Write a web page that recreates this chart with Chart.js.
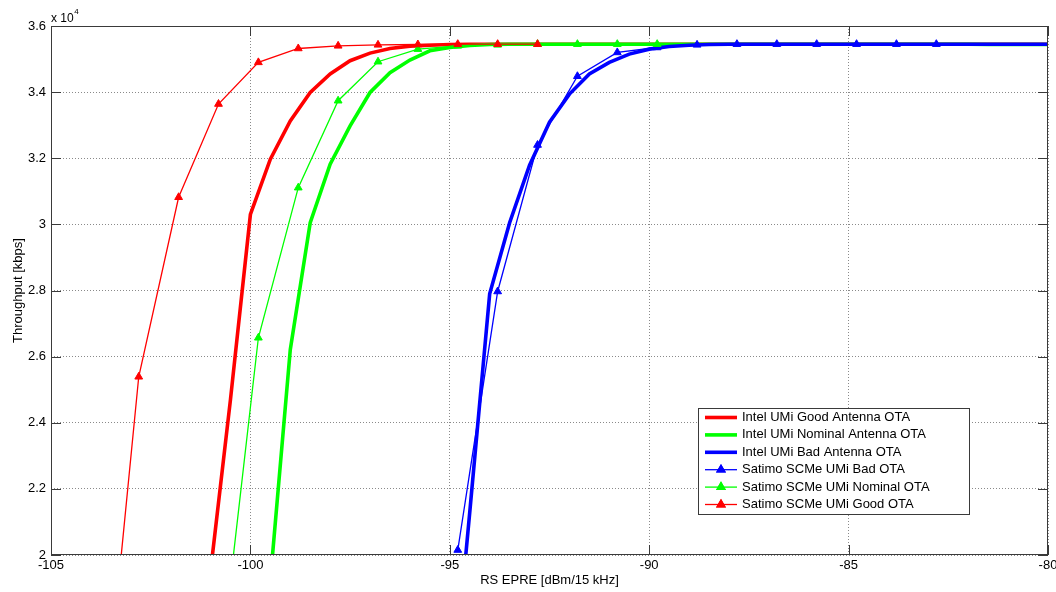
<!DOCTYPE html>
<html>
<head>
<meta charset="utf-8">
<script src="https://cdn.jsdelivr.net/npm/chart.js@4.4.1/dist/chart.umd.min.js"></script>
<style>
  html, body { margin: 0; padding: 0; background: #fff; }
  #wrap { position: relative; width: 1056px; height: 592px; }
</style>
</head>
<body>
<div id="wrap"><canvas id="tputChart"></canvas></div>
<script>
// RS EPRE grid of the Intel curves (0.5 dB steps)
const intelX = [-101, -100.5, -100, -99.5, -99, -98.5, -98, -97.5, -97, -96.5, -96, -95.5, -95,
  -94.5, -94, -93.5, -93, -92.5, -92, -91.5, -91, -90.5, -90, -89.5, -89, -88.5, -88, -87.5,
  -87, -86.5, -86, -85.5, -85, -84.5, -84, -83.5, -83, -82.5, -82, -81.5, -81, -80.5, -80];

const intelGood = [19500, 24700, 30300, 31970, 33130, 33990, 34550, 34950, 35180, 35320, 35390,
  35420, 35440, 35450, 35450, 35450, 35450, 35450, 35450, 35450, 35450, 35450, 35450, 35450,
  35450, 35450, 35450, 35450, 35450, 35450, 35450, 35450, 35450, 35450, 35450, 35450, 35450,
  35450, 35450, 35450, 35450, 35450, 35450];

const intelNominal = [null, null, null, 19240, 26210, 30050, 31820, 32980, 33990, 34590, 34970,
  35250, 35350, 35410, 35440, 35450, 35450, 35450, 35450, 35450, 35450, 35450, 35450, 35450,
  35450, 35450, 35450, 35450, 35450, 35450, 35450, 35450, 35450, 35450, 35450, 35450, 35450,
  35450, 35450, 35440, 35440, 35440, 35440];

const intelBad = [null, null, null, null, null, null, null, null, null, null, null, null,
  14800, 21290, 27900, 30050, 31790, 33090, 33940, 34550, 34900, 35150, 35300, 35380, 35420,
  35440, 35450, 35450, 35450, 35450, 35450, 35450, 35450, 35450, 35450, 35450, 35450, 35450,
  35450, 35450, 35450, 35450, 35450];

// RS EPRE grid of the Satimo measurements (1 dB steps)
const satimoX = [-103.8, -102.8, -101.8, -100.8, -99.8, -98.8, -97.8, -96.8, -95.8, -94.8, -93.8,
  -92.8, -91.8, -90.8, -89.8, -88.8, -87.8, -86.8, -85.8, -84.8, -83.8, -82.8];

const satimoBad = [null, null, null, null, null, null, null, null, null, 20150, 27970, 32400,
  34480, 35200, 35350, 35430, 35450, 35450, 35450, 35450, 35450, 35450];

const satimoNominal = [null, null, null, 16060, 26570, 31110, 33740, 34920, 35300, 35400, 35430,
  35450, 35450, 35450, 35450, null, null, null, null, null, null, null];

const satimoGood = [13100, 25390, 30820, 33640, 34900, 35320, 35400, 35430, 35440, 35450, 35450,
  35450, null, null, null, null, null, null, null, null, null, null];

const xTicks = [-105, -100, -95, -90, -85, -80];
const yTicks = [20000, 22000, 24000, 26000, 28000, 30000, 32000, 34000, 36000];

const FONT = '"Liberation Sans", Arial, sans-serif';
const tickLen = 10;

function pairs(xs, ys) {
  return xs.map((x, i) => ({ x: x, y: ys[i] }));
}

function intelSet(label, color, ys, order) {
  return {
    label: label, data: pairs(intelX, ys), borderColor: color, backgroundColor: color,
    borderWidth: 3.6, pointRadius: 0, pointHoverRadius: 0, order: order, clip: 0
  };
}

function satimoSet(label, color, ys, order) {
  return {
    label: label, data: pairs(satimoX, ys), borderColor: color, backgroundColor: color,
    borderWidth: 1.3, pointStyle: 'triangle', pointRadius: 4.5, pointBorderWidth: 1,
    pointHoverRadius: 4.5, order: order, clip: 0
  };
}

// MATLAB look: solid box, inward ticks, x10^4 multiplier, legend inside the axes
const matlabFrame = {
  id: 'matlabFrame',
  afterDraw(chart) {
    const { ctx, chartArea: a, scales: { x, y } } = chart;
    ctx.save();
    ctx.strokeStyle = '#3a3a3a';
    ctx.lineWidth = 1;
    ctx.beginPath();
    xTicks.forEach(v => {
      const px = Math.round(x.getPixelForValue(v)) + 0.5;
      ctx.moveTo(px, a.bottom); ctx.lineTo(px, a.bottom - tickLen);
      ctx.moveTo(px, a.top); ctx.lineTo(px, a.top + tickLen);
    });
    yTicks.forEach(v => {
      const py = Math.round(y.getPixelForValue(v)) + 0.5;
      ctx.moveTo(a.left, py); ctx.lineTo(a.left + tickLen, py);
      ctx.moveTo(a.right, py); ctx.lineTo(a.right - tickLen, py);
    });
    ctx.stroke();
    ctx.strokeRect(a.left + 0.5, a.top + 0.5, a.right - a.left - 1, a.bottom - a.top - 1);

    // exponent label
    ctx.fillStyle = '#000';
    ctx.textBaseline = 'alphabetic';
    ctx.textAlign = 'left';
    ctx.font = '12px ' + FONT;
    ctx.fillText('x 10', a.left, a.top - 4);
    const w = ctx.measureText('x 10').width;
    ctx.font = '8px ' + FONT;
    ctx.fillText('4', a.left + w + 0.5, a.top - 12);

    // legend
    const sets = chart.data.datasets;
    const bx = a.right - 350, by = a.bottom - 147, bw = 271, bh = 106, rowH = 17.4;
    ctx.fillStyle = '#fff';
    ctx.fillRect(bx, by, bw, bh);
    ctx.strokeStyle = '#3a3a3a';
    ctx.strokeRect(bx + 0.5, by + 0.5, bw, bh);
    ctx.font = '13px ' + FONT;
    ctx.textBaseline = 'middle';
    sets.forEach((ds, i) => {
      const cy = by + 9.5 + i * rowH;
      ctx.strokeStyle = ds.borderColor;
      ctx.lineWidth = ds.borderWidth;
      ctx.beginPath();
      ctx.moveTo(bx + 7, cy); ctx.lineTo(bx + 39, cy);
      ctx.stroke();
      if (ds.pointStyle === 'triangle') {
        Chart.helpers.drawPoint(ctx, { pointStyle: 'triangle', radius: 4.5, borderWidth: 1 }, bx + 23, cy);
        ctx.fillStyle = ds.borderColor;
        ctx.fill();
        ctx.stroke();
      }
      ctx.fillStyle = '#000';
      ctx.fillText(ds.label, bx + 44, cy);
    });
    ctx.restore();
  }
};

const ctx = document.getElementById('tputChart').getContext('2d');

const tputChart = new Chart(ctx, {
  type: 'line',
  data: {
    datasets: [
      intelSet('Intel UMi Good Antenna OTA', '#ff0000', intelGood, 5),
      intelSet('Intel UMi Nominal Antenna OTA', '#00ff00', intelNominal, 4),
      intelSet('Intel UMi Bad Antenna OTA', '#0000ff', intelBad, 3),
      satimoSet('Satimo SCMe UMi Bad OTA', '#0000ff', satimoBad, 2),
      satimoSet('Satimo SCMe UMi Nominal OTA', '#00ff00', satimoNominal, 1),
      satimoSet('Satimo SCMe UMi Good OTA', '#ff0000', satimoGood, 0)
    ]
  },
  options: {
    responsive: true,
    maintainAspectRatio: false,
    animation: false,
    spanGaps: false,
    layout: { padding: { top: 26, right: 8, left: 0, bottom: 0 } },
    plugins: { legend: { display: false }, tooltip: { enabled: false } },
    font: { family: FONT },
    scales: {
      x: {
        type: 'linear',
        min: -105,
        max: -80,
        afterBuildTicks: s => { s.ticks = xTicks.map(v => ({ value: v })); },
        afterFit: s => { s.height = 37; s.paddingLeft = 0; s.paddingRight = 0; },
        grid: { color: '#8a8a8a', drawTicks: false },
        border: { display: false, dash: [1, 2] },
        ticks: { color: '#000', padding: 3, font: { family: FONT, size: 13 }, maxRotation: 0 },
        title: { display: true, text: 'RS EPRE [dBm/15 kHz]', color: '#000',
                 font: { family: FONT, size: 13 }, padding: { top: 0, bottom: 4 } }
      },
      y: {
        min: 20000,
        max: 36000,
        afterBuildTicks: s => { s.ticks = yTicks.map(v => ({ value: v })); },
        afterFit: s => { s.width = 51; s.paddingTop = 0; s.paddingBottom = 0; },
        grid: { color: '#8a8a8a', drawTicks: false },
        border: { display: false, dash: [1, 2] },
        ticks: { color: '#000', padding: 5, font: { family: FONT, size: 13 },
                 callback: v => String(+(v / 10000).toFixed(1)) },
        title: { display: true, text: 'Throughput [kbps]', color: '#000',
                 font: { family: FONT, size: 13 }, padding: { top: 11, bottom: 0 } }
      }
    }
  },
  plugins: [matlabFrame]
});
</script>
</body>
</html>
